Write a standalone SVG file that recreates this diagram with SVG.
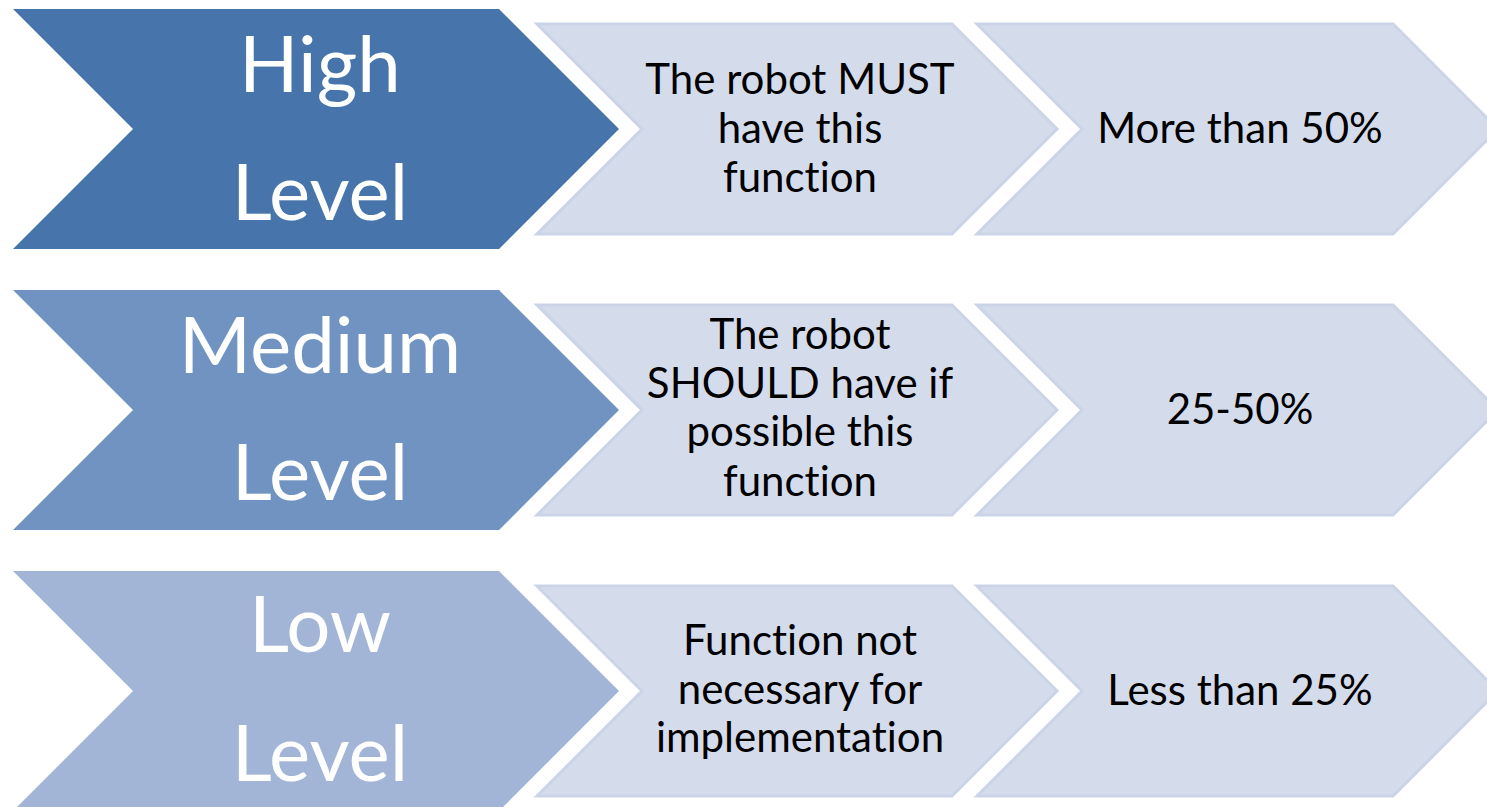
<svg xmlns="http://www.w3.org/2000/svg" width="1487" height="807" viewBox="0 0 1487 807">
<style>
text{font-variant-ligatures:none}
.big{font-family:Lato,"Open Sans",sans-serif;font-size:78px;fill:#fff;text-anchor:middle}
.sm{font-family:Lato,"Open Sans",sans-serif;font-size:42px;fill:#000;text-anchor:middle}
.lt{fill:#D4DCEB;stroke:#CBD4E7;stroke-width:3}
</style>
<rect width="1487" height="807" fill="#fff"/>
<g id="row1">
<g id="high"><path d="M13 9H499L619 129L499 249H13L133 129Z" fill="#4674AB"/>
<text class="big" x="320" y="92">High</text><text class="big" x="320" y="220">Level</text></g>
<g id="must"><path class="lt" d="M537 24H952L1057 129L952 234H537L642 129Z"/>
<text class="sm" x="800" y="94">The robot MUST</text><text class="sm" x="800" y="143">have this</text><text class="sm" x="800" y="192">function</text></g>
<g id="more50"><path class="lt" d="M977 24H1393L1498 129L1393 234H977L1082 129Z"/>
<text class="sm" x="1240" y="143">More than 50%</text></g>
</g>
<g id="row2">
<g id="medium"><path d="M13 290H499L619 410L499 530H13L133 410Z" fill="#7193C2"/>
<text class="big" x="320" y="373">Medium</text><text class="big" x="320" y="500">Level</text></g>
<g id="should"><path class="lt" d="M537 305H952L1057 410L952 515H537L642 410Z"/>
<text class="sm" x="800" y="349">The robot</text><text class="sm" x="800" y="398">SHOULD have if</text><text class="sm" x="800" y="446">possible this</text><text class="sm" x="800" y="496">function</text></g>
<g id="p2550"><path class="lt" d="M977 305H1393L1498 410L1393 515H977L1082 410Z"/>
<text class="sm" x="1240" y="424">25-50%</text></g>
</g>
<g id="row3">
<g id="low"><path d="M13 571H499L619 691L499 811H13L133 691Z" fill="#A2B5D6"/>
<text class="big" x="320" y="652">Low</text><text class="big" x="320" y="781">Level</text></g>
<g id="notnec"><path class="lt" d="M537 586H952L1057 691L952 796H537L642 691Z"/>
<text class="sm" x="800" y="655">Function not</text><text class="sm" x="800" y="704">necessary for</text><text class="sm" x="800" y="752">implementation</text></g>
<g id="less25"><path class="lt" d="M977 586H1393L1498 691L1393 796H977L1082 691Z"/>
<text class="sm" x="1240" y="705">Less than 25%</text></g>
</g>
<g id="connectors"/>
</svg>
